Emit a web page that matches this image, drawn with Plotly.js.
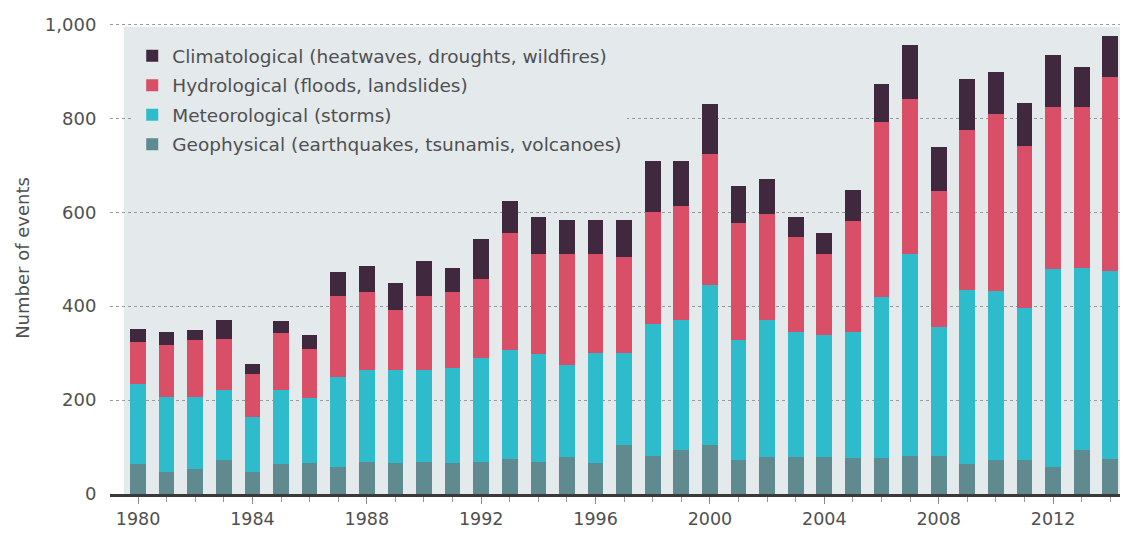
<!DOCTYPE html>
<html>
<head>
<meta charset="utf-8">
<script src="https://cdn.plot.ly/plotly-3.0.1.min.js"></script>
<style>html,body{margin:0;padding:0;background:#fff;}#chart{width:1123px;height:534px;}</style>
</head>
<body>
<div id="chart"></div>
<script>
const years = [1980,1981,1982,1983,1984,1985,1986,1987,1988,1989,1990,1991,1992,1993,1994,1995,1996,1997,1998,1999,2000,2001,2002,2003,2004,2005,2006,2007,2008,2009,2010,2011,2012,2013,2014];
const geophysical    = [63,46,53,72,46,63,65,58,69,65,69,65,69,74,69,79,67,104,81,94,104,72,79,79,79,77,77,81,81,64,72,72,58,94,74];
const meteorological = [172,161,154,149,118,158,140,192,195,199,196,204,220,232,229,195,234,197,281,276,341,256,291,266,259,268,343,431,274,370,360,325,422,388,401];
const hydrological   = [88,111,121,108,91,121,103,171,166,127,156,161,168,249,212,236,211,204,239,243,280,250,227,203,172,236,372,330,290,341,378,343,344,341,412];
const climatological = [29,26,22,41,22,26,30,52,56,59,75,52,85,69,80,73,71,78,107,95,105,77,73,42,46,66,82,113,94,108,89,93,110,86,88];

const names = [
  'Geophysical (earthquakes, tsunamis, volcanoes)',
  'Meteorological (storms)',
  'Hydrological (floods, landslides)',
  'Climatological (heatwaves, droughts, wildfires)'
];
const series = [geophysical, meteorological, hydrological, climatological];
const colors = ['#5f8a90', '#2ebccc', '#d94f68', '#40293f'];

const traces = series.map((s, i) => ({
  type: 'bar',
  x: years,
  y: s,
  name: names[i],
  legendgroup: 'g' + i,
  legendrank: 1000 - i,
  marker: {color: colors[i], line: {width: 0}},
  hoverinfo: 'x+y+name'
}));

const font = '"DejaVu Sans", "Noto Sans", Arial, sans-serif';
const layout = {
  width: 1123,
  height: 534,
  barmode: 'stack',
  bargap: 0.45,
  paper_bgcolor: '#ffffff',
  plot_bgcolor: '#ffffff',
  margin: {l: 110, r: 3, t: 21.65, b: 40, pad: 0},
  font: {family: font, color: '#505050'},
  showlegend: true,
  legend: {
    x: 0.022, y: 0.968, xanchor: 'left', yanchor: 'top',
    traceorder: 'grouped',
    bgcolor: '#e4e9ec',
    font: {family: font, size: 18.5, color: '#505050'},
    itemwidth: 30,
    tracegroupgap: 2.5
  },
  xaxis: {
    range: [1979.02, 2014.34],
    tickmode: 'linear',
    tick0: 1980,
    dtick: 4,
    ticks: 'outside',
    ticklen: 7,
    tickcolor: '#888888',
    tickwidth: 1,
    minor: {dtick: 1, tick0: 1980, ticks: 'outside', ticklen: 5, tickcolor: '#999999', showgrid: false},
    showgrid: false,
    zeroline: false,
    showline: true,
    linecolor: '#3a3a3a',
    linewidth: 3,
    tickfont: {family: font, size: 17.5, color: '#505050'},
    fixedrange: true
  },
  yaxis: {
    range: [0, 1005],
    tickvals: [0, 200, 400, 600, 800, 1000],
    tickformat: ',d',
    ticks: 'outside',
    ticklen: 9,
    tickcolor: 'rgba(0,0,0,0)',
    showgrid: true,
    gridcolor: '#9a9a9a',
    griddash: 'dot',
    gridwidth: 1,
    zeroline: false,
    showline: false,
    tickfont: {family: font, size: 18, color: '#505050'},
    title: {text: 'Number of events', font: {family: font, size: 18, color: '#505050'}, standoff: 10},
    fixedrange: true
  },
  shapes: [{
    type: 'rect', layer: 'below',
    xref: 'x', yref: 'y',
    x0: 1979.5, x1: 2014.34, y0: 0, y1: 995,
    fillcolor: '#e4e9ec', line: {width: 0}
  }]
};

Plotly.newPlot('chart', traces, layout, {displayModeBar: false, staticPlot: true});
</script>
</body>
</html>
